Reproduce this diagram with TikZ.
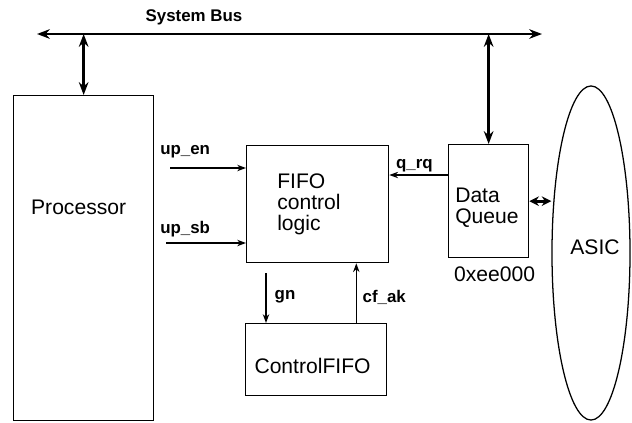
\documentclass[tikz,border=0pt]{standalone}
\usepackage{fontspec}
\setmainfont{Liberation Sans}
\usetikzlibrary{arrows.meta,positioning,shapes.geometric,calc}

\begin{document}
\begin{tikzpicture}[x=0.025cm, y=-0.025cm, font=\fontsize{15}{15}\selectfont,
  blk/.style={draw, line width=0.9pt, anchor=north west, inner sep=0pt},
  txt/.style={align=left, inner sep=0pt},
  sig/.style={font=\fontsize{12}{12}\selectfont\bfseries, inner sep=0pt},
  wire/.style={line width=0.9pt, -{Stealth[length=2.2mm,width=1.6mm]}},
  fat/.style={line width=2pt, {Stealth[length=3.2mm,width=2.4mm]}-{Stealth[length=3.2mm,width=2.4mm]}},
  dbl/.style={line width=2pt, {Stealth[length=2.4mm,width=2.4mm]}-{Stealth[length=2.4mm,width=2.4mm]}},
]
\useasboundingbox (0,0) rectangle (632,422);
% ---- system bus ----
\coordinate (busL) at (37,34);
\coordinate (busR) at (542,34);
\draw[fat] (busL) -- (busR);
\node[sig] (busLbl) at (194,17) {System Bus};
% ---- blocks ----
\node[blk, minimum width=3.5cm, minimum height=8.125cm] (proc) at (13,95) {};
\node[blk, minimum width=3.55cm, minimum height=2.925cm] (fifo) at (246,145) {};
\node[blk, minimum width=2cm, minimum height=2.825cm] (dq) at (448,144) {};
\node[blk, minimum width=3.525cm, minimum height=1.8cm] (cfifo) at (245,323) {};
\node[draw, line width=0.9pt, ellipse, inner sep=0pt, minimum width=1.95cm, minimum height=8.35cm] (asic) at (591,253) {};
% block texts
\node[txt] (asicT) at ([xshift=1mm,yshift=1.5mm]asic.center) {ASIC};
\node[txt] (procT) at ([xshift=-1.25mm,yshift=-2.8cm]proc.north) {Processor};
\node[txt, anchor=west] (fifoT) at ([xshift=7.75mm]fifo.west) {FIFO\\control\\logic};
\node[txt, anchor=west] (dqT) at ([xshift=1.75mm,yshift=-1.75mm]dq.west) {Data\\Queue};
\node[txt] (cfifoT) at ([xshift=-0.9mm,yshift=-1.5mm]cfifo.center) {ControlFIFO};
\node[txt] (addr) at ([xshift=1.5mm,yshift=-4mm]dq.south) {0xee000};
% ---- bus taps ----
\draw[fat] (proc.north) -- (proc.north |- busL);
\draw[fat] (dq.north) -- (dq.north |- busL);
\draw[dbl] (dq.east) -- (dq.east -| asic.west);
% ---- signals ----
\coordinate (enIn) at (170,168);
\coordinate (sbIn) at (166,243);
\coordinate (qOut) at ([yshift=-7.75mm]dq.north west);
\coordinate (gnTop) at ([xshift=5mm,yshift=-2.5mm]fifo.south west);
\coordinate (akBot) at ([xshift=-7.75mm]cfifo.north east);
\draw[wire] (enIn) -- (enIn -| fifo.west);
\draw[wire] (sbIn) -- (sbIn -| fifo.west);
\draw[wire] (qOut) -- (qOut -| fifo.east);
\draw[wire] (gnTop) -- (gnTop |- cfifo.north);
\draw[wire] (akBot) -- (akBot |- fifo.south);
\node[sig, anchor=base west] (enLbl) at ([xshift=-2.5mm,yshift=3.5mm]enIn) {up\_en};
\node[sig, anchor=base west] (sbLbl) at ([xshift=-1.5mm,yshift=2.5mm]sbIn) {up\_sb};
\node[sig, anchor=base east] (qLbl) at ([xshift=-3.75mm,yshift=1.75mm]qOut) {q\_rq};
\node[sig] (gnLbl) at ([xshift=4.75mm,yshift=-5.75mm]gnTop) {gn};
\node[sig] (akLbl) at ([xshift=7mm,yshift=6.5mm]akBot) {cf\_ak};
\end{tikzpicture}
\end{document}
